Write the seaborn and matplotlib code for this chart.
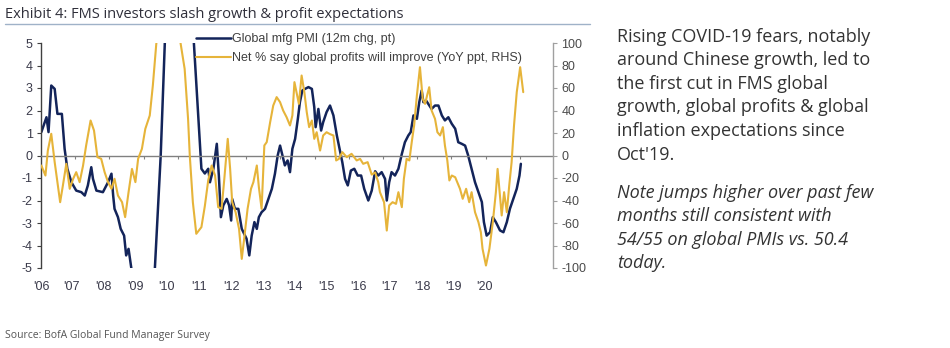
import matplotlib
matplotlib.use("Agg")
import matplotlib.pyplot as plt
import seaborn as sns
from matplotlib.lines import Line2D

# ---------------- data ----------------
pmi_t = [2006.01, 2006.11, 2006.16, 2006.22, 2006.30, 2006.40, 2006.48, 2006.61, 2006.69, 2006.77,
         2006.89, 2007.03, 2007.18, 2007.28, 2007.37, 2007.47, 2007.52, 2007.62, 2007.81, 2007.96,
         2008.06, 2008.11, 2008.15, 2008.25, 2008.33, 2008.43, 2008.49, 2008.56, 2008.64, 2008.80,
         2009.00, 2009.15, 2009.33, 2009.50, 2009.62, 2009.80, 2010.00, 2010.20, 2010.47, 2010.69,
         2010.79, 2010.89, 2010.94, 2011.04, 2011.14, 2011.20, 2011.26, 2011.33, 2011.43, 2011.50,
         2011.56, 2011.59, 2011.67, 2011.77, 2011.87, 2011.94, 2012.01, 2012.09, 2012.16, 2012.24,
         2012.31, 2012.37, 2012.45, 2012.55, 2012.65, 2012.75, 2012.84, 2012.92, 2012.99, 2013.06,
         2013.13, 2013.21, 2013.28, 2013.35, 2013.43, 2013.51, 2013.57, 2013.64, 2013.72, 2013.82,
         2013.92, 2013.99, 2014.03, 2014.11, 2014.19, 2014.25, 2014.35, 2014.45, 2014.55, 2014.65,
         2014.74, 2014.81, 2014.89, 2014.97, 2015.06, 2015.16, 2015.26, 2015.36, 2015.45, 2015.57,
         2015.67, 2015.77, 2015.86, 2015.96, 2016.06, 2016.11, 2016.18, 2016.25, 2016.35, 2016.45,
         2016.55, 2016.64, 2016.74, 2016.81, 2016.89, 2016.99, 2017.06, 2017.13, 2017.18, 2017.26,
         2017.32, 2017.42, 2017.52, 2017.62, 2017.72, 2017.81, 2017.91, 2018.01, 2018.11, 2018.20,
         2018.30, 2018.40, 2018.49, 2018.59, 2018.69, 2018.79, 2018.89, 2018.95, 2019.03, 2019.13,
         2019.21, 2019.30, 2019.42, 2019.52, 2019.62, 2019.71, 2019.81, 2019.91, 2019.99, 2020.03]
pmi_v = [1.04, 1.48, 1.70, 1.04, 3.11, 2.96, 1.85, 1.85, 0.30, -0.59,
         -1.19, -1.56, -1.63, -1.78, -1.33, -0.52, -1.04, -1.56, -1.63, -1.19,
         -0.81, -1.78, -2.37, -2.74, -3.26, -3.56, -4.44, -4.15, -5.0, -9.0,
         -16.0, -11.0, -5.0, 0.0, 5.0, 11.0, 15.0, 12.0, 5.0, -0.59,
         -0.80, -0.59, -1.19, -0.59, 0.52, -0.89, -2.74, -2.22, -1.93, -2.22,
         -2.89, -1.93, -2.37, -2.37, -3.26, -3.48, -3.70, -4.44, -3.56, -2.96,
         -3.26, -2.74, -2.52, -2.37, -1.93, -1.48, -0.81, 0.00, 0.44, 0.00,
         -0.44, -0.22, -0.74, 0.30, 0.74, 1.63, 2.37, 2.89, 2.96, 3.04,
         2.96, 2.15, 1.26, 2.07, 1.11, 1.48, 1.93, 2.22, 1.78, 0.89,
         0.22, -0.30, -1.04, -1.33, -0.67, -0.59, -0.89, -0.89, -1.48, -2.00,
         -1.56, -0.70, -0.89, -0.74, -1.04, -2.00, -1.19, -0.74, -0.89, -0.59,
         0.07, 0.59, 0.89, 1.04, 1.78, 1.63, 2.37, 2.89, 2.37, 2.44,
         2.30, 2.07, 2.22, 2.22, 1.78, 1.56, 1.70, 1.41, 1.19, 0.59,
         0.52, 0.44, 0.00, -0.59, -1.19, -1.63, -2.07, -2.96, -3.56, -3.41,
         -2.74, -2.96, -3.33, -3.41, -2.96, -2.37, -1.93, -1.48, -0.89, -0.37]

prof_t = [2006.01, 2006.13, 2006.20, 2006.30, 2006.40, 2006.48, 2006.56, 2006.64, 2006.74, 2006.84,
          2006.94, 2007.03, 2007.13, 2007.23, 2007.32, 2007.45, 2007.55, 2007.65, 2007.76, 2007.86,
          2007.96, 2008.06, 2008.15, 2008.25, 2008.37, 2008.46, 2008.56, 2008.66, 2008.76, 2008.84,
          2008.95, 2009.05, 2009.18, 2009.27, 2009.37, 2009.55, 2009.75, 2009.95, 2010.08, 2010.20,
          2010.30, 2010.35, 2010.44, 2010.54, 2010.69, 2010.79, 2010.89, 2010.99, 2011.09, 2011.18,
          2011.28, 2011.36, 2011.46, 2011.53, 2011.59, 2011.69, 2011.79, 2011.87, 2011.94, 2012.04,
          2012.14, 2012.21, 2012.31, 2012.37, 2012.45, 2012.53, 2012.60, 2012.70, 2012.79, 2012.89,
          2012.99, 2013.08, 2013.18, 2013.28, 2013.35, 2013.41, 2013.48, 2013.54, 2013.62, 2013.70,
          2013.77, 2013.84, 2013.92, 2013.99, 2014.06, 2014.16, 2014.25, 2014.35, 2014.45, 2014.55,
          2014.63, 2014.71, 2014.81, 2014.94, 2015.08, 2015.23, 2015.33, 2015.42, 2015.55, 2015.67,
          2015.77, 2015.86, 2015.91, 2016.03, 2016.11, 2016.18, 2016.28, 2016.38, 2016.45, 2016.55,
          2016.61, 2016.69, 2016.77, 2016.84, 2016.91, 2016.99, 2017.08, 2017.16, 2017.23, 2017.30,
          2017.35, 2017.42, 2017.52, 2017.59, 2017.67, 2017.75, 2017.81, 2017.88, 2017.94, 2018.01,
          2018.11, 2018.17, 2018.25, 2018.33, 2018.43, 2018.52, 2018.59, 2018.69, 2018.79, 2018.86,
          2018.91, 2019.01, 2019.11, 2019.21, 2019.30, 2019.35, 2019.42, 2019.47, 2019.54, 2019.62,
          2019.69, 2019.76, 2019.83, 2019.91, 2020.01, 2020.10]
prof_v = [-8.9, -17.8, 4.4, 19.3, -5.9, -23.7, -41.5, -26.7, -7.4, -29.6,
          -20.7, -14.8, -23.7, -8.9, 8.9, 31.1, 22.2, -1.5, -2.9, -14.8,
          -23.7, -29.6, -20.7, -35.6, -41.5, -54.8, -32.6, -11.9, -23.7, -2.9,
          5.9, 23.7, 35.6, 62.2, 99.0, 135.0, 145.0, 120.0, 100.0, 77.0,
          32.6, 0.0, -41.5, -69.6, -63.7, -45.0, -22.0, -8.9, -17.8, -45.9,
          -47.4, -20.7, 14.8, -11.9, -41.5, -50.4, -65.2, -91.9, -74.0, -47.4,
          -29.6, -23.7, -8.9, -28.1, -47.4, 8.9, 11.9, 29.6, 44.4, 51.9,
          47.4, 40.0, 34.1, 26.7, 35.6, 65.2, 54.8, 45.9, 71.1, 56.3,
          38.5, 25.2, 31.1, 14.8, 20.7, 4.4, 17.8, 20.7, 19.0, 17.8,
          -4.4, -3.0, 3.0, -1.5, 1.5, -4.4, -3.0, -7.4, -5.9, -17.0,
          -15.0, -23.7, -32.6, -41.5, -66.7, -44.4, -41.5, -43.0, -32.6, -45.9,
          -20.7, -3.0, -4.4, 11.9, 26.7, 53.3, 78.5, 50.4, 45.9, 54.8,
          60.7, 40.0, 32.6, 20.7, 17.8, 25.2, 8.9, -4.4, -22.2, -17.8,
          -19.3, -23.7, -29.6, -38.5, -29.6, -41.5, -32.6, -50.4, -59.3, -68.1,
          -83.0, -97.8, -83.0, -59.3, -32.6, -11.9, -35.6, -53.3, -32.6, -50.4,
          -26.7, -5.9, 26.7, 56.3, 78.5, 56.3]

left_ticks = [-5, -4, -3, -2, -1, 0, 1, 2, 3, 4, 5]
right_ticks = [-100, -80, -60, -40, -20, 0, 20, 40, 60, 80, 100]
year_marks = [2007, 2008, 2009, 2010, 2011, 2012, 2013, 2014, 2015, 2016, 2017, 2018, 2019, 2020]
label_pos = [2006.00, 2006.88, 2007.84, 2008.75, 2009.68, 2010.62, 2011.56, 2012.49,
             2013.40, 2014.36, 2015.27, 2016.20, 2017.14, 2018.05, 2018.98]
label_txt = ["'06", "'07", "'08", "'09", "'10", "'11", "'12", "'13",
             "'14", "'15", "'16", "'17", "'18", "'19", "'20"]
legend_labels = ["Global mfg PMI (12m chg, pt)",
                 "Net % say global profits will improve (YoY ppt, RHS)"]
title = "Exhibit 4: FMS investors slash growth & profit expectations"
source = "Source: BofA Global Fund Manager Survey"
para1 = ["Rising COVID-19 fears, notably", "around Chinese growth, led to",
         "the first cut in FMS global", "growth, global profits & global",
         "inflation expectations since", "Oct'19."]
para2 = ["Note jumps higher over past few", "months still consistent with",
         "54/55 on global PMIs vs. 50.4", "today."]

# ---------------- style ----------------
NAVY = "#13245a"
GOLD = "#e6b43a"
sns.set_theme(style="white")
NARROW = ["Liberation Sans Narrow", "Liberation Sans", "DejaVu Sans"]
plt.rcParams["font.family"] = NARROW

W, H = 950, 348
fig = plt.figure(figsize=(W / 100, H / 100), dpi=100)
fig.patch.set_facecolor("white")
ax = fig.add_axes([41 / W, 1 - 268 / H, 512 / W, 225 / H])
ax2 = ax.twinx()

sns.lineplot(x=pmi_t, y=pmi_v, ax=ax, color=NAVY, linewidth=1.8, estimator=None, sort=False)
sns.lineplot(x=prof_t, y=prof_v, ax=ax2, color=GOLD, linewidth=1.5, estimator=None, sort=False)

ax.set_xlim(2006.0, 2020.97)
ax.set_ylim(-5, 5)
ax2.set_ylim(-100, 100)
ax.set_facecolor("none")

# zero line with year marks
for s in ["top", "right"]:
    ax.spines[s].set_visible(False)
ax.spines["bottom"].set_position(("data", 0))
ax.spines["bottom"].set_color("#808080")
ax.spines["bottom"].set_linewidth(1.0)
ax.spines["left"].set_color("#404040")
ax.spines["left"].set_linewidth(1.0)
ax.set_xticks(year_marks)
ax.set_xticklabels([])
ax.tick_params(axis="x", direction="out", length=2.5, width=0.8, color="#808080", bottom=True)
ax.set_yticks(left_ticks, labels=[str(v) for v in left_ticks])
ax.tick_params(axis="y", direction="out", length=3, width=0.8, color="#404040",
               labelcolor="#3a3a4a", labelsize=9, pad=3, left=True)

for s in ["top", "left", "bottom"]:
    ax2.spines[s].set_visible(False)
ax2.spines["right"].set_color("#a0a0a0")
ax2.spines["right"].set_linewidth(1.0)
ax2.set_yticks(right_ticks, labels=[str(v) for v in right_ticks])
ax2.tick_params(axis="y", direction="out", length=3, width=0.8, color="#a0a0a0",
                labelcolor="#4a4a4a", labelsize=9, pad=3, right=True)
ax2.set_ylabel("")
ax.set_ylabel("")

# year labels under the plot
sec = ax.secondary_xaxis(0.0)
sec.set_xticks(label_pos, labels=label_txt)
sec.tick_params(axis="x", length=0, pad=9, labelsize=9, labelcolor="#3a3a4a")
sec.spines["bottom"].set_visible(False)

# legend
handles = [Line2D([], [], color=NAVY, lw=1.8), Line2D([], [], color=GOLD, lw=1.5)]
leg = ax2.legend(handles, legend_labels, loc="upper left", bbox_to_anchor=(196 / W, 1 - 33 / H),
                 bbox_transform=fig.transFigure, frameon=False, fontsize=9,
                 handlelength=2.8, handletextpad=0.1, labelspacing=0.55,
                 borderpad=0, borderaxespad=0)
for t in leg.get_texts():
    t.set_color("#404040")

# title, rule, source
fig.text(5 / W, 1 - 18 / H, title, fontsize=10.5, family=["Open Sans", "DejaVu Sans"],
         color="#2f2f3a", va="baseline", ha="left")
fig.add_artist(Line2D([5 / W, 590 / W], [1 - 23.5 / H] * 2, color="#9fb2c8", lw=1.0))
fig.text(5 / W, 1 - 338 / H, source, fontsize=7.5, family=["Open Sans", "DejaVu Sans"],
         color="#555555", va="baseline", ha="left")

# commentary
for i, line in enumerate(para1):
    fig.text(617 / W, 1 - (41.7 + 23.6 * i) / H, line, fontsize=13, family=["Open Sans", "DejaVu Sans"],
             color="#333333", va="baseline", ha="left")
for i, line in enumerate(para2):
    fig.text(617 / W, 1 - (197.5 + 23.6 * i) / H, line, fontsize=13, family=["Open Sans", "DejaVu Sans"],
             style="italic", color="#333333", va="baseline", ha="left")

fig.savefig("out.png", dpi=100, facecolor="white")
